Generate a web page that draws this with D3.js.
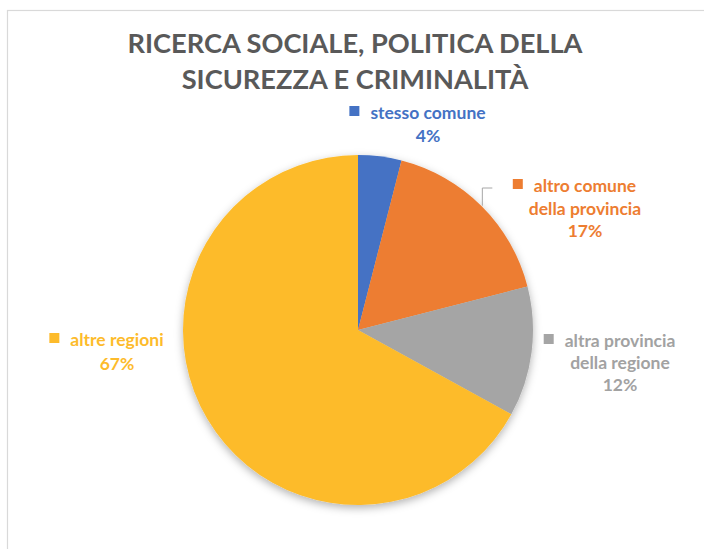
<!DOCTYPE html>
<html>
<head>
<meta charset="utf-8">
<script src="https://cdn.jsdelivr.net/npm/d3@7"></script>
<style>
  html, body { margin: 0; padding: 0; background: #fff; }
  svg { display: block; }
</style>
</head>
<body>
<svg id="chart" width="704" height="549"></svg>
<script>
// Destinazione dei laureati: quote percentuali per area di provenienza
const categories = ["stesso comune", "altro comune della provincia", "altra provincia della regione", "altre regioni"];
const values = [4, 17, 12, 67];
const colors = ["#4472C4", "#ED7D31", "#A5A5A5", "#FDBB2B"];
const labelLines = [
  ["stesso comune"],
  ["altro comune", "della provincia"],
  ["altra provincia", "della regione"],
  ["altre regioni"]
];
const titleLines = ["RICERCA SOCIALE, POLITICA DELLA", "SICUREZZA E CRIMINALITÀ"];

const svg = d3.select("#chart");
const W = 704, H = 549;
const font = "Lato, 'Open Sans', sans-serif";

// chart area frame
svg.append("rect")
  .attr("x", 7.5).attr("y", 10.5)
  .attr("width", W + 20).attr("height", H + 20)
  .attr("fill", "#fff").attr("stroke", "#d9d9d9").attr("stroke-width", 1.2);

// title
svg.append("g").selectAll("text").data(titleLines).join("text")
  .attr("x", 355).attr("y", (d, i) => 53 + i * 36)
  .attr("text-anchor", "middle")
  .attr("font-family", font).attr("font-weight", 700)
  .attr("font-size", 27.2).attr("fill", "#595959")
  .text(d => d);

// soft shadow under the pie
const defs = svg.append("defs");
const f = defs.append("filter").attr("id", "shadow")
  .attr("x", "-20%").attr("y", "-20%").attr("width", "140%").attr("height", "140%");
f.append("feDropShadow").attr("dx", 0).attr("dy", 3).attr("stdDeviation", 4)
  .attr("flood-color", "#000").attr("flood-opacity", 0.3);

const cx = 358, cy = 330, r = 175;
const pie = d3.pie().sort(null).value(d => d)(values);
const arc = d3.arc().innerRadius(0).outerRadius(r);

const g = svg.append("g").attr("transform", `translate(${cx},${cy})`);
g.append("g").attr("filter", "url(#shadow)")
  .selectAll("path").data(pie).join("path")
  .attr("d", arc)
  .attr("fill", (d, i) => colors[i]);

// data labels: text lines, legend key, percentage
const labelPos = [
  { x: 428, y: 119, lh: 23 },
  { x: 585, y: 192, lh: 22.5 },
  { x: 620, y: 347, lh: 22 },
  { x: 117, y: 346, lh: 24 }
];
const fmt = d3.format(".0f");

labelPos.forEach((p, i) => {
  const lg = svg.append("g");
  const lines = labelLines[i].concat([fmt(values[i]) + "%"]);
  const texts = lg.selectAll("text").data(lines).join("text")
    .attr("x", p.x).attr("y", (d, k) => p.y + k * p.lh)
    .attr("text-anchor", "middle")
    .attr("font-family", font).attr("font-weight", 700)
    .attr("font-size", 17.5).attr("fill", colors[i] === "#A5A5A5" ? "#a2a2a2" : colors[i])
    .text(d => d);
  const w = texts.node().getComputedTextLength();
  lg.append("rect")
    .attr("x", p.x - w / 2 - 21).attr("y", p.y - 13)
    .attr("width", 10).attr("height", 10)
    .attr("fill", colors[i]);
});

// leader line for the "altro comune" slice
const s = pie[1];
const mid = (s.startAngle + s.endAngle) / 2;
const ex = cx + (r - 2) * Math.sin(mid), ey = cy - (r - 2) * Math.cos(mid);
svg.append("polyline")
  .attr("points", [[ex + 2, ey - 2], [ex + 2, 188], [ex + 12, 188]].map(q => q.join(",")).join(" "))
  .attr("fill", "none").attr("stroke", "#a6a6a6").attr("stroke-width", 1);
</script>
</body>
</html>
